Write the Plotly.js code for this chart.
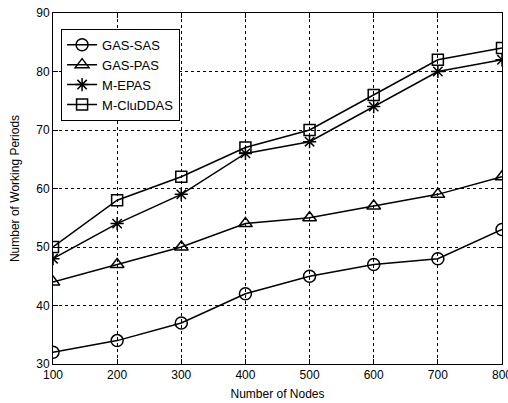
<!DOCTYPE html>
<html>
<head>
<meta charset="utf-8">
<script src="https://cdn.plot.ly/plotly-3.0.1.min.js"></script>
<style>html,body{margin:0;padding:0;background:#fff;}#chart{width:508px;height:403px;}</style>
</head>
<body>
<div id="chart"></div>
<script>
const nodes = [100, 200, 300, 400, 500, 600, 700, 800];
const gasSas = [32, 34, 37, 42, 45, 47, 48, 53];
const gasPas = [44, 47, 50, 54, 55, 57, 59, 62];
const mEpas = [48, 54, 59, 66, 68, 74, 80, 82];
const mCluddas = [50, 58, 62, 67, 70, 76, 82, 84];
const seriesNames = ['GAS-SAS', 'GAS-PAS', 'M-EPAS', 'M-CluDDAS'];
const yTicks = [30, 40, 50, 60, 70, 80, 90];

const mk = (y, name, symbol, size) => ({
  x: nodes, y: y, name: name, type: 'scatter', mode: 'lines+markers',
  line: {color: '#000', width: 1.5},
  marker: {symbol: symbol, size: size, color: '#000', line: {color: '#000', width: 1.5}}
});

const data = [
  mk(gasSas, seriesNames[0], 'circle-open', 12),
  mk(gasPas, seriesNames[1], 'triangle-up-open', 12),
  mk(mEpas, seriesNames[2], 'asterisk-open', 11),
  mk(mCluddas, seriesNames[3], 'square-open', 11)
];

const axisCommon = {
  showline: true, linecolor: '#000', linewidth: 1, mirror: 'ticks',
  ticks: 'inside', ticklen: 5, tickcolor: '#000',
  showgrid: true, gridcolor: '#000', gridwidth: 1, griddash: '3px,3px',
  zeroline: false, tickfont: {size: 12, color: '#000'},
  ticklabeloverflow: 'allow'
};

const layout = {
  width: 508, height: 403,
  margin: {l: 53, r: 6, t: 13, b: 39},
  paper_bgcolor: '#fff', plot_bgcolor: '#fff',
  font: {family: '"Liberation Sans", Arial, sans-serif', color: '#000'},
  showlegend: true,
  legend: {
    x: 0.018, y: 0.955, xanchor: 'left', yanchor: 'top',
    bgcolor: '#fff', bordercolor: '#000', borderwidth: 1,
    font: {size: 13, color: '#000'}, tracegroupgap: 0
  },
  xaxis: Object.assign({}, axisCommon, {
    range: [100, 800], tickvals: nodes,
    title: {text: 'Number of Nodes', font: {size: 12}, standoff: 8}
  }),
  yaxis: Object.assign({}, axisCommon, {
    range: [30, 90], tickvals: yTicks,
    title: {text: 'Number of Working Periods', font: {size: 12}, standoff: 14}
  })
};

Plotly.newPlot('chart', data, layout, {displayModeBar: false, staticPlot: true});
</script>
</body>
</html>
